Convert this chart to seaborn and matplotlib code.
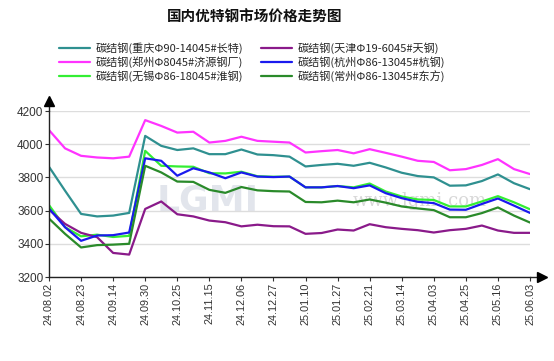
import numpy as np
import pandas as pd
import matplotlib
matplotlib.use("Agg")
import matplotlib.pyplot as plt
import seaborn as sns

# tick dates shown on the x axis (every second sample)
tick_dates = ['24.08.02', '24.08.23', '24.09.14', '24.09.30', '24.10.25', '24.11.15',
              '24.12.06', '24.12.27', '25.01.10', '25.01.27', '25.02.21', '25.03.14',
              '25.04.03', '25.04.25', '25.05.16', '25.06.03']

# prices, two samples per tick interval
chongqing = [3864, 3720, 3580, 3565, 3570, 3586, 4050, 3990, 3965, 3975, 3940, 3940, 3968, 3938, 3934,
             3925, 3866, 3875, 3882, 3870, 3888, 3860, 3828, 3808, 3800, 3750, 3752, 3778, 3818, 3765, 3729]
zhengzhou = [4085, 3975, 3930, 3920, 3915, 3925, 4145, 4110, 4070, 4075, 4010, 4020, 4045, 4020, 4015,
             4010, 3950, 3958, 3965, 3945, 3970, 3948, 3925, 3900, 3893, 3843, 3850, 3875, 3910, 3850, 3820]
wuxi = [3633, 3500, 3445, 3455, 3441, 3448, 3960, 3870, 3866, 3864, 3825, 3824, 3834, 3807, 3804,
        3805, 3740, 3740, 3748, 3740, 3763, 3715, 3685, 3667, 3664, 3625, 3625, 3655, 3687, 3650, 3608]
tianjin = [3606, 3520, 3466, 3440, 3345, 3335, 3610, 3655, 3578, 3565, 3540, 3530, 3505, 3515, 3506,
           3505, 3460, 3465, 3486, 3480, 3518, 3500, 3490, 3482, 3468, 3482, 3490, 3510, 3480, 3466, 3466]
hangzhou = [3613, 3500, 3418, 3450, 3452, 3468, 3915, 3900, 3810, 3855, 3830, 3795, 3830, 3805, 3802,
            3805, 3740, 3740, 3748, 3735, 3752, 3705, 3675, 3653, 3645, 3606, 3605, 3640, 3673, 3630, 3586]
changzhou = [3552, 3460, 3378, 3392, 3395, 3400, 3870, 3830, 3775, 3773, 3725, 3707, 3742, 3722, 3717,
             3715, 3652, 3650, 3660, 3650, 3667, 3648, 3625, 3613, 3603, 3560, 3560, 3585, 3619, 3570, 3528]

names = ['碳结钢(重庆Φ90-14045#长特)', '碳结钢(郑州Φ8045#济源钢厂)', '碳结钢(无锡Φ86-18045#淮钢)',
         '碳结钢(天津Φ19-6045#天钢)', '碳结钢(杭州Φ86-13045#杭钢)', '碳结钢(常州Φ86-13045#东方)']
series = [chongqing, zhengzhou, wuxi, tianjin, hangzhou, changzhou]
colors = ['#2f9090', '#ff33ff', '#33ee33', '#8a1a8a', '#1a1aee', '#2a8a2a']

rows = []
for name, vals in zip(names, series):
    for i, v in enumerate(vals):
        rows.append({'idx': i, 'price': v, 'series': name})
df = pd.DataFrame(rows)

sns.set_style("white")
plt.rcParams['font.family'] = ['Noto Sans CJK SC', 'DejaVu Sans']

fig = plt.figure(figsize=(5.54, 3.61), dpi=100)
ax = fig.add_axes([49 / 554, 1 - 277 / 361, (530 - 49) / 554, (277 - 111) / 361])

# watermark
ax.text(0.33, 0.46, 'LGMI', transform=ax.transAxes, fontsize=26, color='#b8c0d0',
        alpha=0.4, ha='center', va='center', fontweight='bold', family='DejaVu Sans', zorder=0)
ax.text(0.77, 0.46, 'www.lgmi.com', transform=ax.transAxes, fontsize=13, color='#c8c8c8',
        alpha=0.7, ha='center', va='center', family='DejaVu Serif', zorder=0)

sns.lineplot(data=df, x='idx', y='price', hue='series', hue_order=names,
             palette=dict(zip(names, colors)), linewidth=1.6, ax=ax)
handles, labels = ax.get_legend_handles_labels()
ax.get_legend().remove()

ax.set_xlim(0, 30)
ax.set_ylim(3200, 4200)
ax.set_yticks([3200, 3400, 3600, 3800, 4000, 4200])
ax.set_xticks(np.arange(0, 31, 2))
ax.set_xticklabels(tick_dates, rotation=90, fontsize=7.8, family='Liberation Sans', color='#333333')
for t in ax.get_yticklabels():
    t.set_fontsize(8.5)
    t.set_family('Liberation Sans')
    t.set_color('#333333')
ax.set_xlabel('')
ax.set_ylabel('')
ax.yaxis.grid(True, color='#dddddd', linewidth=1)
ax.set_axisbelow(True)
ax.tick_params(axis='both', length=3, width=0.8, color='#333333', pad=1, direction='out')
ax.tick_params(axis='x', bottom=True)
ax.tick_params(axis='y', left=True)

for s in ['top', 'right']:
    ax.spines[s].set_visible(False)
for s in ['left', 'bottom']:
    ax.spines[s].set_color('#222222')
    ax.spines[s].set_linewidth(1)

# axis arrows
ax.plot([0, 0], [1, 1.06], color='#222222', lw=1, transform=ax.transAxes, clip_on=False)
ax.plot(0, 1.06, marker='^', color='black', markersize=7, transform=ax.transAxes, clip_on=False)
ax.plot([1, 1.02], [0, 0], color='#222222', lw=1, transform=ax.transAxes, clip_on=False)
ax.plot(1.025, 0, marker='>', color='black', markersize=7, transform=ax.transAxes, clip_on=False)

fig.text(255 / 554, 1 - 17 / 361, '国内优特钢市场价格走势图', ha='center', va='center',
         fontsize=10.5, fontweight='bold', color='#111111')
fig.legend(handles, labels, loc='upper center', bbox_to_anchor=(252 / 554, 1 - 37 / 361),
           ncol=2, frameon=False, fontsize=8, handlelength=2.8, handletextpad=0.5,
           columnspacing=1.6, labelspacing=0.2, borderpad=0)

fig.savefig('out.png', dpi=100)
